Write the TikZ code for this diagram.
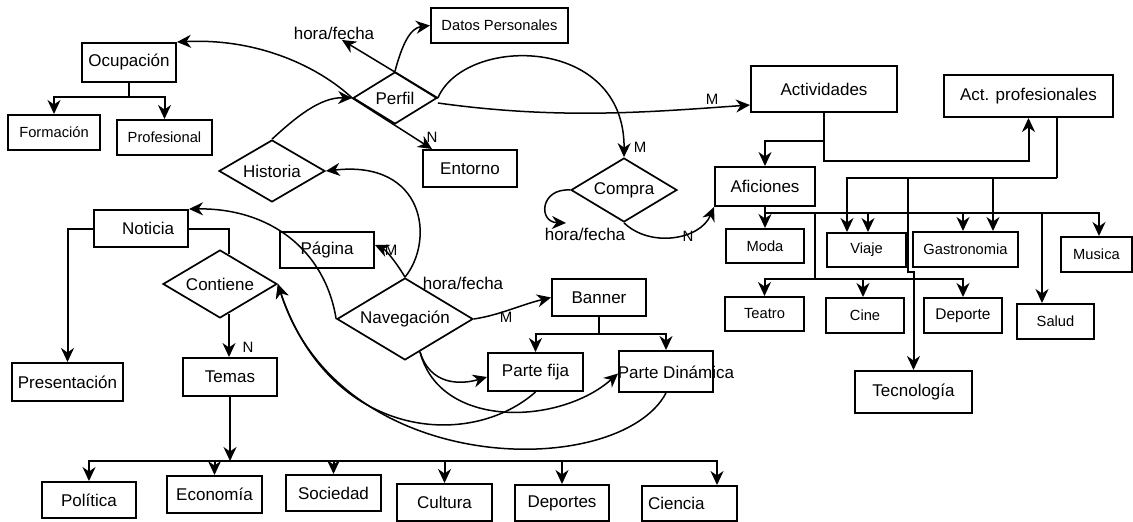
\documentclass[tikz,border=0pt]{standalone}
\usepackage{fontspec}
\setmainfont{Liberation Sans}
\usetikzlibrary{arrows.meta,shapes.geometric,calc}
\begin{document}
\begin{tikzpicture}[x=1pt,y=-1pt,
  big/.style={font=\fontsize{17}{20}\selectfont},
  small/.style={font=\fontsize{14.7}{17}\selectfont},
  box/.style={draw, line width=2pt, inner sep=0pt},
  rel/.style={draw, diamond, line width=1.7pt, inner sep=0pt, big},
  tip/.style={-{Stealth[length=14pt 0,width=13pt 0,inset=4.5pt 0]}},
  tree/.style={line width=2pt, tip},
  plain/.style={line width=2pt},
  arc/.style={line width=1.5pt, tip},
  card/.style={font=\fontsize{15}{17}\selectfont, inner sep=0pt},
]
\useasboundingbox (0,0) rectangle (1133,522);

% ---------- entities ----------
\node[box,big,minimum width=94pt,minimum height=39pt] (ocup) at (129,62.5) {Ocupación};
\node[box,small,minimum width=92pt,minimum height=35pt] (form) at (54,132.5) {Formación};
\node[box,small,minimum width=95pt,minimum height=35pt] (prof) at (164.5,137.5) {Profesional};
\node[box,small,minimum width=137pt,minimum height=35pt] (datos) at (499.5,25.5) {Datos Personales};
\node[box,big,minimum width=94pt,minimum height=37pt] (ent) at (470,168.5) {Entorno};
\node[box,big,minimum width=146pt,minimum height=46pt] (activ) at (824,89) {Actividades};
\node[box,big,minimum width=169pt,minimum height=42pt] (actp) at (1028.5,96) {Act. profesionales};
\node[box,big,minimum width=100pt,minimum height=39pt] (afic) at (765,186.5) {Aficiones};
\node[box,small,minimum width=78pt,minimum height=34pt] (moda) at (765,246) {Moda};
\node[box,small,minimum width=79pt,minimum height=34pt] (viaje) at (866.5,250) {Viaje};
\node[box,small,minimum width=105pt,minimum height=35pt] (gastro) at (965.5,249.5) {Gastronomia};
\node[box,small,minimum width=71pt,minimum height=35pt] (musica) at (1096.5,254.5) {Musica};
\node[box,small,minimum width=79pt,minimum height=34pt] (teatro) at (764.5,314) {Teatro};
\node[box,small,minimum width=78pt,minimum height=35pt] (cine) at (865,315.5) {Cine};
\node[box,font=\fontsize{15.5}{18}\selectfont,minimum width=78pt,minimum height=35pt] (deporte) at (963,315.5) {Deporte};
\node[box,small,minimum width=77pt,minimum height=35pt] (salud) at (1055.5,321.5) {Salud};
\node[box,big,minimum width=117pt,minimum height=42pt] (tecno) at (913.5,392) {Tecnología};
\node[box,big,minimum width=94pt,minimum height=37pt,text width=66pt,align=right] (noticia) at (141,228.5) {Noticia};
\node[box,big,minimum width=94pt,minimum height=36pt] (pagina) at (327,250) {Página};
\node[box,big,minimum width=111pt,minimum height=38pt] (present) at (67.5,382) {Presentación};
\node[box,big,minimum width=94pt,minimum height=38pt] (temas) at (230,377) {Temas};
\node[box,big,minimum width=94pt,minimum height=37pt] (banner) at (599,297.5) {Banner};
\node[box,big,minimum width=95pt,minimum height=38pt] (pfija) at (535.5,372) {Parte fija};
\node[box,minimum width=94pt,minimum height=41pt] (pdin) at (666,371.5) {};
\node[big,inner sep=0pt] (pdintext) at (676,372) {Parte Dinámica};
\node[box,big,minimum width=94pt,minimum height=36pt] (politica) at (89,500) {Política};
\node[box,big,minimum width=95pt,minimum height=37pt] (econ) at (214.5,494.5) {Economía};
\node[box,big,minimum width=95pt,minimum height=36pt] (socie) at (333.5,493) {Sociedad};
\node[box,big,minimum width=95pt,minimum height=37pt] (cultura) at (444.5,502.5) {Cultura};
\node[box,big,minimum width=94pt,minimum height=36pt] (deportes) at (562,503) {Deportes};
\node[box,big,minimum width=95pt,minimum height=35pt,text width=83pt,align=left] (ciencia) at (689.5,503.5) {Ciencia};

% ---------- relationships ----------
\node[rel,aspect=1.6,minimum width=84pt,minimum height=52pt] (pf) at (395,98) {Perfil};
\node[rel,aspect=1.7,minimum width=106pt,minimum height=62pt] (hist) at (272,171) {Historia};
\node[rel,aspect=1.68,minimum width=114pt,minimum height=68pt] (cont) at (220,284) {Contiene};
\node[rel,aspect=1.66,minimum width=136pt,minimum height=82pt] (nav) at (405,319) {Navegación};
\node[rel,aspect=1.66,minimum width=106pt,minimum height=64pt] (compra) at (624,190) {Compra};

% ---------- free labels ----------
\node[big,inner sep=0pt] (hf1) at (334,33) {hora/fecha};
\node[big,inner sep=0pt] (hf2) at (463,283) {hora/fecha};
\node[big,inner sep=0pt] (hf3) at (585,234) {hora/fecha};
\node[card] (mAct) at (712,99) {M};
\node[card] (mCompra) at (640,147) {M};
\node[card] (nEnt) at (432,137) {N};
\node[card] (nAfic) at (688,236) {N};
\node[card] (mPag) at (391,250) {M};
\node[card] (mBan) at (506,317) {M};
\node[card] (nTem) at (248,347) {N};

\coordinate (hf1tip) at (342,40);
\coordinate (hf3tip) at (566,223);

% ---------- Ocupacion tree ----------
\draw[plain] (ocup.south) -- ++(0,14) coordinate (ocj);
\draw[tree] (ocj) -| (form.north);
\draw[tree] (ocj) -| (prof.north);

% ---------- Perfil links ----------
\draw[arc] (pf.west) .. controls (320,68) and (260,38) .. (ocup.north east);
\draw[arc] (hist.north) .. controls (295,118) and (320,97) .. (pf.west);
\draw[arc] (pf.east) -- (hf1tip);
\draw[arc] (pf.north) .. controls (402,45) and (410,28) .. (datos.west);
\draw[arc] (pf.west) -- ([xshift=10pt]ent.north west);
\draw[arc] ([yshift=-5pt]pf.east) .. controls (560,120) and (650,112) .. ([yshift=-16pt]activ.west);
\draw[arc] (pf.east) .. controls (465,35) and (625,35) .. (compra.north);

% ---------- Compra links ----------
\draw[arc] (compra.west) .. controls (540,188) and (538,222) .. (hf3tip);
\draw[arc] (compra.south) .. controls (650,248) and (700,240) .. (afic.south west);

% ---------- Actividades tree ----------
\draw[tree] (activ.south) -- ++(0,28) -| (afic.north);
\draw[tree] (activ.south) -- ++(0,48) -| (actp.south);
\draw[plain] ([xshift=28.5pt]actp.south) -- ++(0,60) coordinate (apj);
\draw[tree] (apj) -| ([xshift=-19.5pt]viaje.north);
\draw[tree] (apj) -| ([xshift=27.5pt]gastro.north);
\draw[tree] (apj) -| ($(tecno.north)+(-5.5,-98)$) -- ++(5.5,0) -- (tecno.north);

% ---------- Aficiones tree ----------
\draw[plain] (afic.south) -- ++(0,6) coordinate (afj) -- ++(334,0);
\draw[tree] (afj) -- (moda.north);
\draw[tree] (afj) -| ([xshift=1.5pt]viaje.north);
\draw[tree] (afj) -| ([xshift=-2.5pt]gastro.north);
\draw[tree] (afj) -| ([xshift=2.5pt]musica.north);
\draw[tree] (afj) -| ([xshift=-13.5pt]salud.north);
\draw[plain] (afj) -| ++(50,66) coordinate (afj2);
\draw[tree] (afj2) -| (teatro.north);
\draw[tree] (afj2) -| ([xshift=-2pt]cine.north);
\draw[tree] (afj2) -| (deporte.north);

% ---------- Navegacion links ----------
\draw[arc] (nav.north) .. controls (435,240) and (425,160) .. (hist.east);
\draw[arc] (nav.north) .. controls (396,262) and (386,250) .. ([yshift=5pt]pagina.east);
\draw[arc] (nav.west) .. controls (325,250) and (270,208) .. (noticia.north east);
\draw[arc] (nav.east) .. controls (500,315) and (520,305) .. (banner.west);
\coordinate (navlow) at ($(nav.south)+(15,-9)$);
\draw[arc] (navlow) .. controls (430,385) and (460,385) .. ([yshift=-5pt]pfija.west);
\draw[arc] (navlow) .. controls (440,430) and (560,425) .. ([yshift=-2pt]pdin.west);

% ---------- Banner tree ----------
\draw[plain] (banner.south) -- ++(0,17) coordinate (bj);
\draw[tree] (bj) -| (pfija.north);
\draw[tree] (bj) -| (pdin.north);

% ---------- back to Contiene ----------
\draw[arc] (pfija.south) .. controls (470,450) and (330,440) .. (cont.east);
\draw[arc] (pdin.south) .. controls (620,480) and (340,480) .. (cont.east);

% ---------- Noticia / Contiene / Temas ----------
\draw[tree] (noticia.west) -| (present.north);
\draw[plain] (noticia.east) -| ($(cont.north)+(9,5)$);
\coordinate (ctb) at ($(cont.south)+(9,-5)$);
\draw[tree] (ctb) -- (ctb |- temas.north);

% ---------- Temas tree ----------
\draw[tree] (temas.south) -- ++(0,64) coordinate (tj);
\draw[tree] (tj) -| (politica.north);
\draw[tree] (tj) -| (econ.north);
\draw[tree] (tj) -| (socie.north);
\draw[tree] (tj) -| (cultura.north);
\draw[tree] (tj) -| (deportes.north);
\draw[tree] (tj) -| ([xshift=27.5pt]ciencia.north);
\end{tikzpicture}
\end{document}
